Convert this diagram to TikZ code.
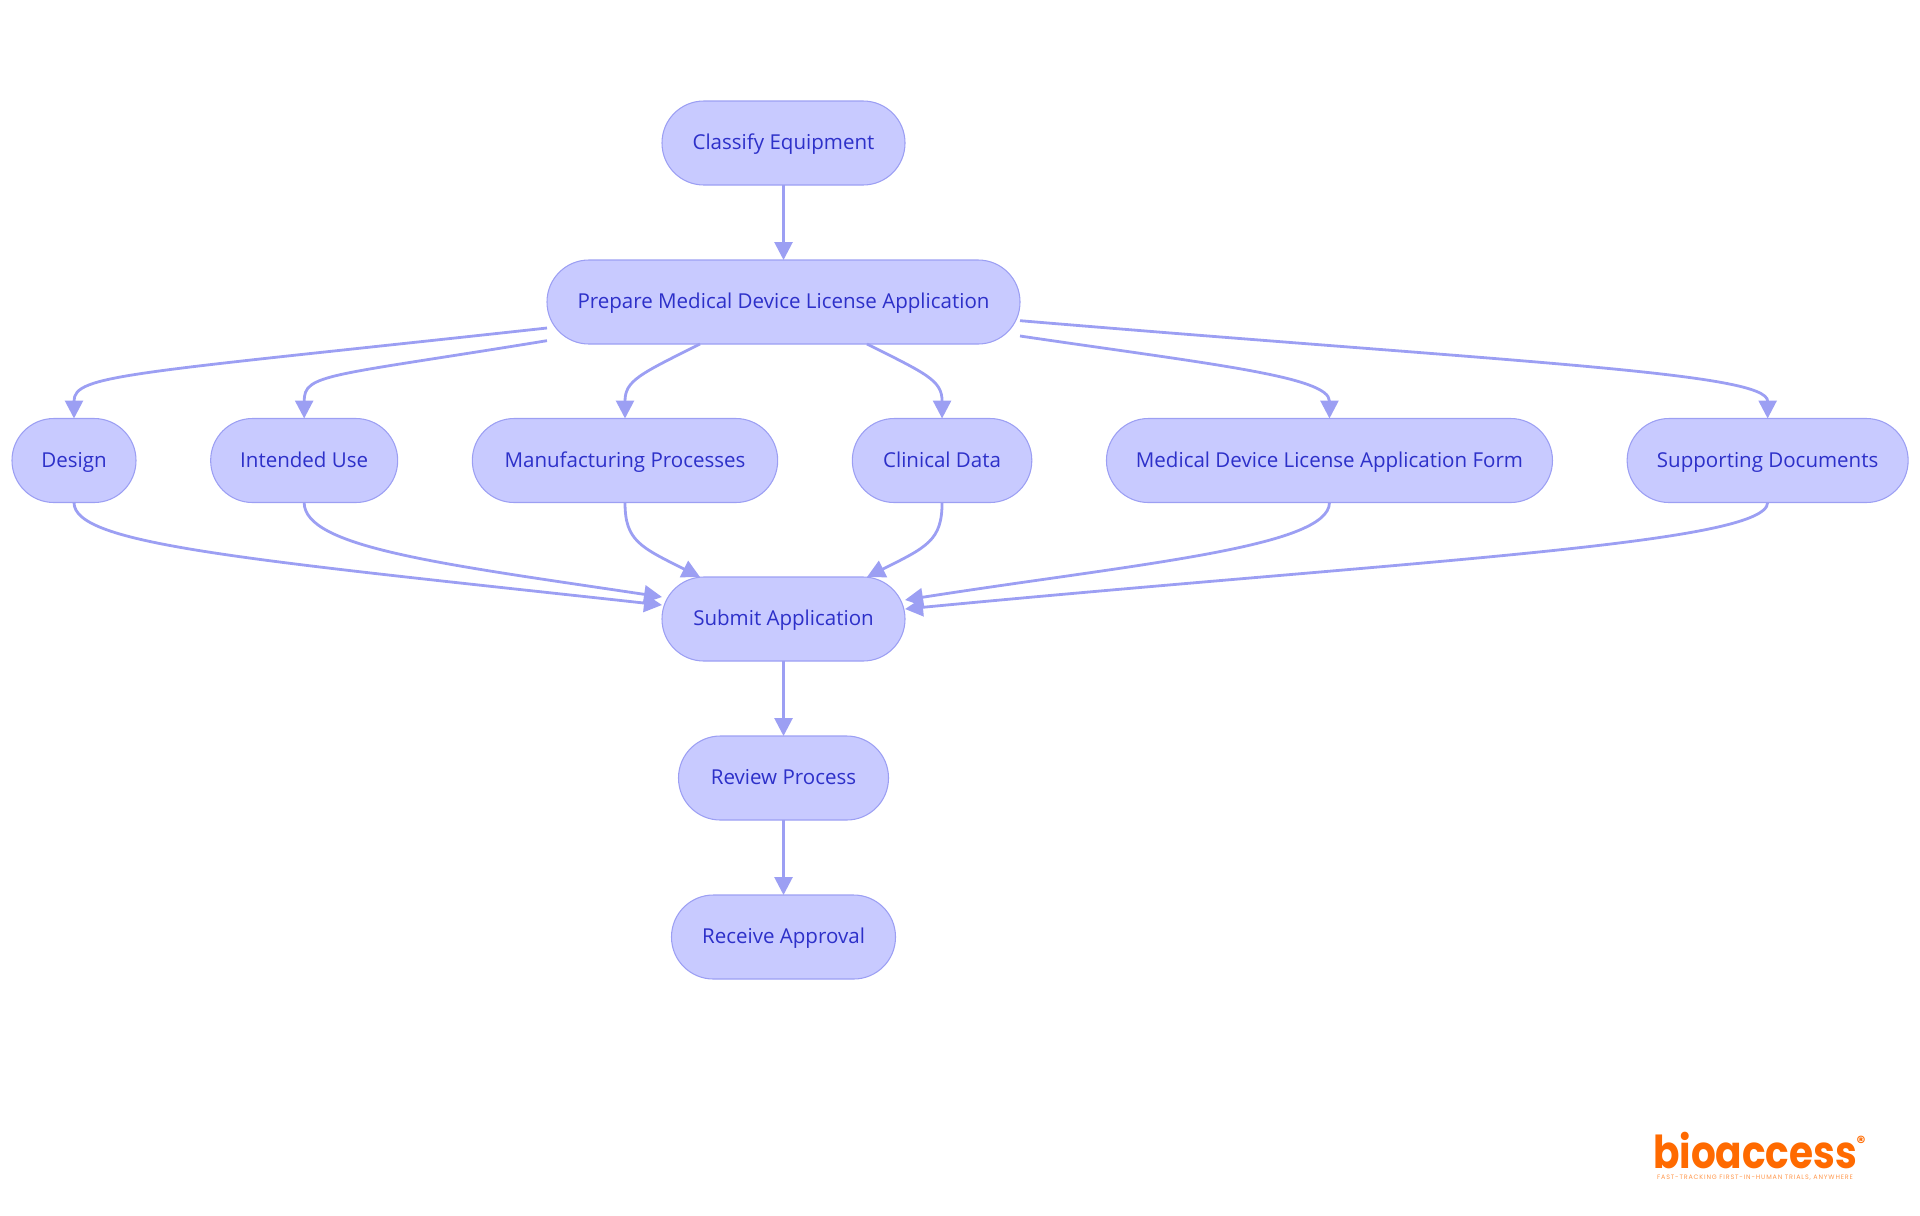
\documentclass[tikz,border=0pt]{standalone}
\usepackage{fontspec}
\setmainfont{Open Sans}
\newfontfamily\logofont{Poppins}
\usetikzlibrary{positioning,arrows.meta}
\definecolor{boxfill}{HTML}{C8CAFF}
\definecolor{boxline}{HTML}{9C9FF3}
\definecolor{boxtext}{HTML}{2D30C9}
\definecolor{logoorange}{HTML}{FF6A00}

\begin{document}
\begin{tikzpicture}[
  x=0.75pt, y=-0.75pt,
  node distance=56.25pt and 56pt,
  stepbox/.style={draw=boxline, fill=boxfill, text=boxtext, line width=0.8pt, rounded corners=31.4pt,
    minimum height=63pt, outer sep=0pt, inner sep=0pt, text height=10pt, text depth=0pt,
    font=\fontsize{15.4}{17}\selectfont},
  flow/.style={draw=boxline, line width=2.1pt, -{Triangle[length=13.5pt,width=13.5pt]}}
]
  \useasboundingbox (0,0) rectangle (1920,1215);
  \node[stepbox, minimum width=182.25pt] (classify) at (783.5,143) {Classify Equipment};
  \node[stepbox, minimum width=354.75pt, below=of classify] (prepare) {Prepare Medical Device License Application};
  \node[stepbox, minimum width=93pt] (design) at (74,460.5) {Design};
  \node[stepbox, minimum width=140.25pt, right=of design] (intended) {Intended Use};
  \node[stepbox, minimum width=229pt, right=of intended] (manufacturing) {Manufacturing Processes};
  \node[stepbox, minimum width=134.6pt, right=of manufacturing] (clinical) {Clinical Data};
  \node[stepbox, minimum width=334.5pt, right=of clinical] (form) {Medical Device License Application Form};
  \node[stepbox, minimum width=210.75pt, right=of form] (supporting) {Supporting Documents};
  \node[stepbox, minimum width=182.25pt, below=174.75pt of prepare] (submit) {Submit Application};
  \node[stepbox, minimum width=157.5pt, below=of submit] (review) {Review Process};
  \node[stepbox, minimum width=168pt, below=of review] (approval) {Receive Approval};

  \node[inner sep=0pt, text=logoorange, xscale=0.86, transform shape, font=\logofont\bfseries\fontsize{34}{34}\selectfont] (logo) at (1755,1151) {bioaccess};
  \node[inner sep=0pt, text=logoorange, font=\logofont\bfseries\fontsize{13}{13}\selectfont] (logomark) at (1861,1142) {®};
  \node[inner sep=0pt, text=logoorange!70, font=\logofont\fontsize{4.8}{5}\selectfont\addfontfeature{LetterSpace=13}, below=3.5pt of logo] (tagline) {FAST-TRACKING FIRST-IN-HUMAN TRIALS, ANYWHERE};

  \draw[flow] (classify) -- (prepare);
  \draw[flow] (submit) -- (review);
  \draw[flow] (review) -- (approval);

  % out of prepare
  \draw[flow] ([yshift=-19.5pt]prepare.west) .. controls +(-420,46) and +(0,-44) .. (design.north);
  \draw[flow] ([yshift=-29pt]prepare.west) .. controls +(-220,36) and +(0,-45) .. (intended.north);
  \draw[flow] ([xshift=-62.6pt]prepare.south) .. controls +(-60,30) and +(0,-38) .. (manufacturing.north);
  \draw[flow] ([xshift=62.6pt]prepare.south) .. controls +(60,30) and +(0,-38) .. (clinical.north);
  \draw[flow] ([yshift=-25.5pt]prepare.east) .. controls +(190,28) and +(0,-42) .. (form.north);
  \draw[flow] ([yshift=-14pt]prepare.east) .. controls +(500,42) and +(0,-46) .. (supporting.north);

  % into submit
  \draw[flow] (design.south) .. controls +(0,42) and +(-420,-46) .. ([yshift=10.5pt]submit.west);
  \draw[flow] (intended.south) .. controls +(0,45) and +(-220,-33) .. ([yshift=16.5pt]submit.west);
  \draw[flow] (manufacturing.south) .. controls +(0,38) and +(-60,-30) .. ([xshift=-62.6pt]submit.north);
  \draw[flow] (clinical.south) .. controls +(0,38) and +(60,-30) .. ([xshift=62.6pt]submit.north);
  \draw[flow] (form.south) .. controls +(0,45) and +(230,-36) .. ([yshift=14.25pt]submit.east);
  \draw[flow] (supporting.south) .. controls +(0,42) and +(500,-48) .. ([yshift=7.5pt]submit.east);
\end{tikzpicture}
\end{document}
